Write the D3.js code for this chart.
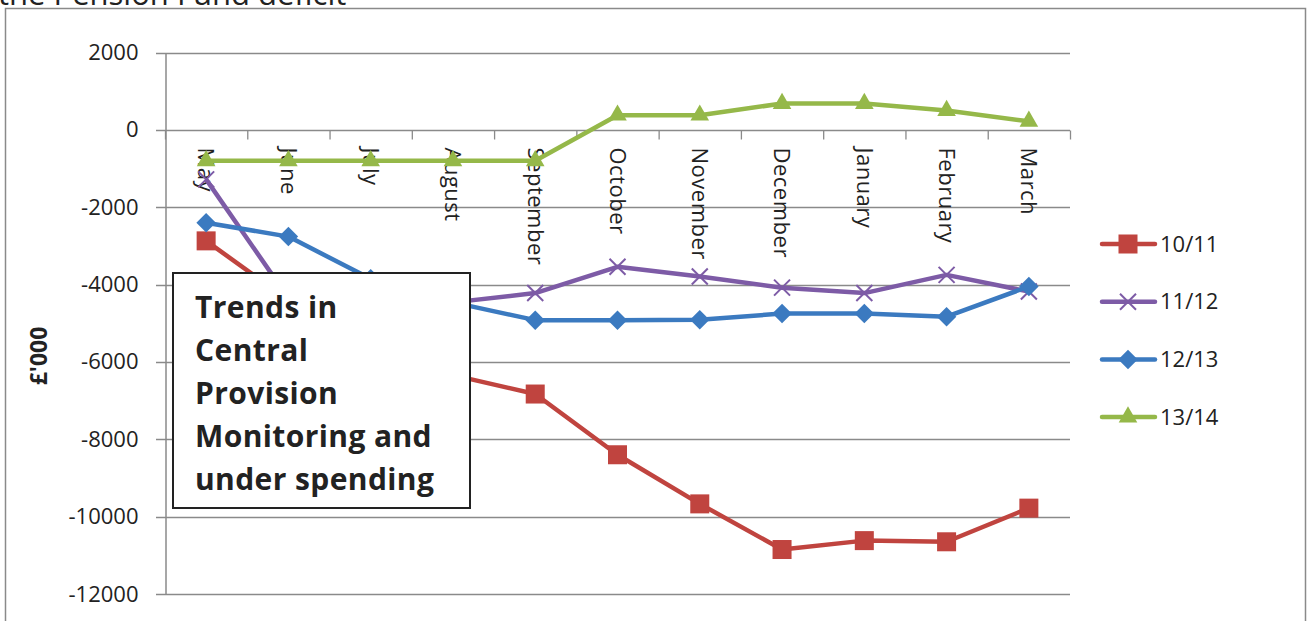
<!DOCTYPE html>
<html>
<head>
<meta charset="utf-8">
<script src="https://cdn.jsdelivr.net/npm/d3@7"></script>
<style>
  html, body { margin: 0; padding: 0; background: #fff; }
  svg { display: block; font-family: "Open Sans", "DejaVu Sans", sans-serif; }
</style>
</head>
<body>
<svg id="chart" width="1308" height="621"></svg>
<script>
// months of the financial year, as on the category axis
const months = ['May', 'June', 'July', 'August', 'September', 'October',
	'November', 'December', 'January', 'February', 'March'];

// £'000 (June–August partly hidden behind the text box)
const s1011 = [-2870, -4400, -5400, -6340, -6830, -8400, -9670, -10850, -10620, -10650, -9780];
const s1112 = [-1280, -4350, -4500, -4460, -4220, -3540, -3790, -4080, -4220, -3750, -4180];
const s1213 = [-2400, -2760, -3850, -4460, -4920, -4920, -4910, -4750, -4750, -4830, -4050];
const s1314 = [-800, -800, -800, -800, -800, 380, 380, 680, 680, 500, 220];

const yTicks = [2000, 0, -2000, -4000, -6000, -8000, -10000, -12000];
const seriesNames = ['10/11', '11/12', '12/13', '13/14'];

const series = [
	{ name: seriesNames[0], values: s1011, color: '#c0443f', marker: 'square' },
	{ name: seriesNames[1], values: s1112, color: '#7d5ba6', marker: 'cross' },
	{ name: seriesNames[2], values: s1213, color: '#3b7ac0', marker: 'diamond' },
	{ name: seriesNames[3], values: s1314, color: '#95b849', marker: 'triangle' }
];

const svg = d3.select('#chart');
const gridColor = '#8a8a8a';

// cut-off caption above the chart frame
svg.append('text')
	.attr('x', -2)
	.attr('y', 5)
	.attr('font-size', 31)
	.attr('fill', '#222')
	.text('the Pension Fund deficit');

// chart frame
svg.append('rect')
	.attr('x', 5.5).attr('y', 8.5)
	.attr('width', 1300).attr('height', 640)
	.attr('fill', 'none')
	.attr('stroke', gridColor)
	.attr('stroke-width', 1.5);

const xScale = d3.scaleBand().domain(months).range([165, 1070]).padding(0);
const yScale = d3.scaleLinear().domain([-12000, 2000]).range([594, 52.5]);
const cx = m => xScale(m) + xScale.bandwidth() / 2;

// horizontal gridlines
svg.append('g')
	.selectAll('line')
	.data(yTicks)
	.enter().append('line')
	.attr('x1', 156).attr('x2', 1070)
	.attr('y1', d => Math.round(yScale(d)) + 0.5)
	.attr('y2', d => Math.round(yScale(d)) + 0.5)
	.attr('stroke', gridColor)
	.attr('stroke-width', 1.3);

// y axis (plain hyphen minus, as in the original)
const yAxis = svg.append('g')
	.attr('transform', 'translate(165.5,0)')
	.call(d3.axisLeft(yScale).tickValues(yTicks).tickSize(0).tickPadding(27).tickFormat(d => String(d)));
yAxis.select('.domain').attr('stroke', gridColor).attr('stroke-width', 1.5);
yAxis.selectAll('text')
	.attr('font-size', 22)
	.attr('fill', '#222')
	.style('font-family', '"Open Sans", sans-serif');

// category axis at zero, with tick marks between the months
const xAxis = svg.append('g')
	.attr('transform', 'translate(0,' + (Math.round(yScale(0)) + 0.5) + ')');
xAxis.selectAll('line')
	.data(d3.range(months.length + 1))
	.enter().append('line')
	.attr('x1', i => 165.5 + i * xScale.bandwidth())
	.attr('x2', i => 165.5 + i * xScale.bandwidth())
	.attr('y1', 0).attr('y2', 9)
	.attr('stroke', gridColor)
	.attr('stroke-width', 1.3);
xAxis.selectAll('text')
	.data(months)
	.enter().append('text')
	.attr('transform', d => 'translate(' + cx(d) + ',17) rotate(90)')
	.attr('dy', '0.35em')
	.attr('font-size', 22)
	.attr('letter-spacing', 0.5)
	.attr('fill', '#222')
	.text(d => d);

// y axis title
svg.append('text')
	.attr('transform', 'translate(39,' + 356 + ') rotate(-90)')
	.attr('text-anchor', 'middle')
	.attr('dy', '0.35em')
	.attr('font-size', 23)
	.attr('font-weight', 'bold')
	.attr('fill', '#222')
	.text("£'000");

function drawMarker(g, type, color) {
	if (type === 'square') {
		g.append('rect').attr('x', -9.5).attr('y', -9.5).attr('width', 19).attr('height', 19).attr('fill', color);
	} else if (type === 'diamond') {
		g.append('path').attr('d', d3.symbol(d3.symbolSquare, 190)()).attr('transform', 'rotate(45)').attr('fill', color);
	} else if (type === 'triangle') {
		g.append('path').attr('d', d3.symbol(d3.symbolTriangle, 150)()).attr('fill', color);
	} else if (type === 'cross') {
		g.append('path').attr('d', 'M-8,-8L8,8M-8,8L8,-8').attr('stroke', color).attr('stroke-width', 2).attr('fill', 'none');
	}
}

const line = d3.line()
	.x((d, i) => cx(months[i]))
	.y(d => yScale(d));

series.forEach(function(s) {
	const g = svg.append('g');
	g.append('path')
		.attr('d', line(s.values))
		.attr('fill', 'none')
		.attr('stroke', s.color)
		.attr('stroke-width', 4.5)
		.attr('stroke-linejoin', 'round');
	s.values.forEach(function(v, i) {
		const mg = g.append('g').attr('transform', 'translate(' + cx(months[i]) + ',' + yScale(v) + ')');
		drawMarker(mg, s.marker, s.color);
	});
});

// legend
const legend = svg.append('g');
series.forEach(function(s, i) {
	const ly = 244 + i * 57.7;
	const lg = legend.append('g').attr('transform', 'translate(0,' + ly + ')');
	lg.append('line')
		.attr('x1', 1102).attr('x2', 1155)
		.attr('stroke', s.color).attr('stroke-width', 4.5).attr('stroke-linecap', 'round');
	drawMarker(lg.append('g').attr('transform', 'translate(1128,0)'), s.marker, s.color);
	lg.append('text')
		.attr('x', 1160).attr('dy', '0.35em')
		.attr('font-size', 22)
		.attr('fill', '#222')
		.text(s.name);
});

// text box laid over the chart
const boxLines = ['Trends in', 'Central', 'Provision', 'Monitoring and', 'under spending'];
svg.append('rect')
	.attr('x', 173).attr('y', 273)
	.attr('width', 297).attr('height', 235)
	.attr('fill', '#fff')
	.attr('stroke', '#222')
	.attr('stroke-width', 2);
svg.append('g')
	.selectAll('text')
	.data(boxLines)
	.enter().append('text')
	.attr('x', 195)
	.attr('y', (d, i) => 318 + i * 43)
	.attr('font-size', 30)
	.attr('font-weight', 'bold')
	.attr('letter-spacing', 0.4)
	.attr('fill', '#222')
	.text(d => d);
</script>
</body>
</html>
